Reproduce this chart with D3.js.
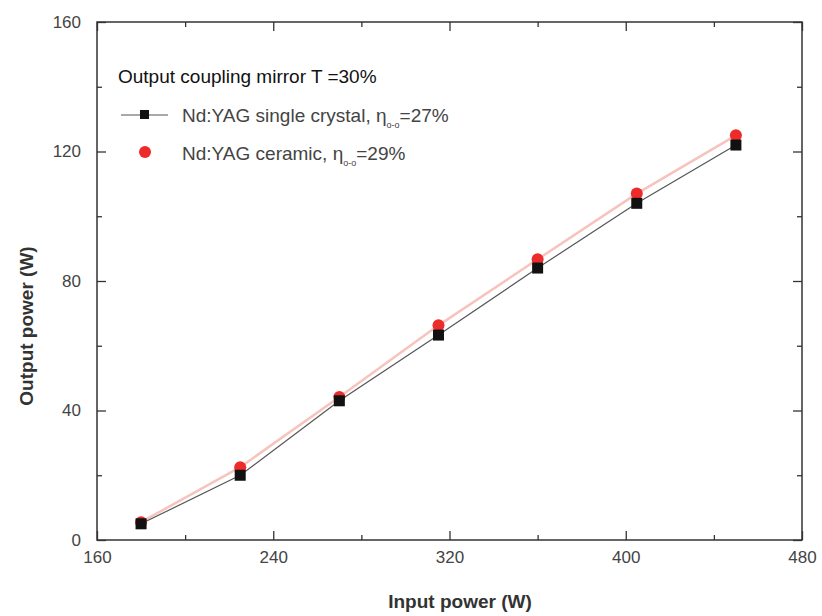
<!DOCTYPE html>
<html>
<head>
<meta charset="utf-8">
<script src="https://cdn.jsdelivr.net/npm/d3@7"></script>
<style>
  body { margin: 0; background: #fff; }
  text { font-family: "Liberation Sans", Arial, sans-serif; }
</style>
</head>
<body>
<svg id="chart" width="822" height="616"></svg>
<script>
// measured data
var input_power = [180, 225, 270, 315, 360, 405, 450]
var single_crystal = [5, 20, 43, 63.3, 84, 104, 122]
var ceramic = [5.5, 22.5, 44.2, 66.3, 86.7, 107, 125]

var x_ticks = [160, 240, 320, 400, 480]
var y_ticks = [0, 40, 80, 120, 160]

// plot box (window.top is reserved, so plain names are avoided)
var plot_left = 97, plot_right = 802, plot_top = 22, plot_bottom = 540

var svg = d3.select('#chart')

var x = d3.scaleLinear().domain([160, 480]).range([plot_left, plot_right])
var y = d3.scaleLinear().domain([0, 160]).range([plot_bottom, plot_top])

// frame
svg.append('rect')
    .attr('x', plot_left)
    .attr('y', plot_top)
    .attr('width', plot_right - plot_left)
    .attr('height', plot_bottom - plot_top)
    .attr('fill', 'none')
    .attr('stroke', '#333')
    .attr('stroke-width', 1.5)

// inward ticks on all four sides
function addAxis(axis, tx, ty) {
    var g = svg.append('g')
        .attr('transform', 'translate(' + tx + ',' + ty + ')')
        .call(axis)
    g.select('.domain').remove()
    g.selectAll('line').attr('stroke', '#333').attr('stroke-width', 1.3)
    return g
}

var xMinor = d3.range(200, 480, 80)
var yMinor = d3.range(20, 160, 40)

var gx = addAxis(d3.axisBottom(x).tickValues(x_ticks).tickSize(-9).tickPadding(11), 0, plot_bottom)
gx.selectAll('text').attr('font-size', 17).attr('fill', '#444')
addAxis(d3.axisBottom(x).tickValues(xMinor).tickSize(-5).tickFormat(''), 0, plot_bottom)
addAxis(d3.axisTop(x).tickValues(x_ticks).tickSize(-9).tickFormat(''), 0, plot_top)
addAxis(d3.axisTop(x).tickValues(xMinor).tickSize(-5).tickFormat(''), 0, plot_top)

var gy = addAxis(d3.axisLeft(y).tickValues(y_ticks).tickSize(-9).tickPadding(16), plot_left, 0)
gy.selectAll('text').attr('font-size', 17).attr('fill', '#444')
addAxis(d3.axisLeft(y).tickValues(yMinor).tickSize(-5).tickFormat(''), plot_left, 0)
addAxis(d3.axisRight(y).tickValues(y_ticks).tickSize(-9).tickFormat(''), plot_right, 0)
addAxis(d3.axisRight(y).tickValues(yMinor).tickSize(-5).tickFormat(''), plot_right, 0)

// axis titles
svg.append('text')
    .attr('x', 460)
    .attr('y', 608)
    .attr('text-anchor', 'middle')
    .attr('font-size', 19)
    .attr('font-weight', 'bold')
    .attr('fill', '#333')
    .text('Input power (W)')

svg.append('text')
    .attr('transform', 'translate(33,326) rotate(-90)')
    .attr('text-anchor', 'middle')
    .attr('font-size', 19)
    .attr('font-weight', 'bold')
    .attr('fill', '#333')
    .text('Output power (W)')

var line = d3.line()
    .x(function(d) { return x(d[0]) })
    .y(function(d) { return y(d[1]) })

var crystalPts = d3.zip(input_power, single_crystal)
var ceramicPts = d3.zip(input_power, ceramic)

svg.append('path')
    .datum(ceramicPts)
    .attr('d', line)
    .attr('fill', 'none')
    .attr('stroke', '#f7c4bd')
    .attr('stroke-width', 2.5)

svg.append('path')
    .datum(crystalPts)
    .attr('d', line)
    .attr('fill', 'none')
    .attr('stroke', '#555')
    .attr('stroke-width', 1.2)

svg.selectAll('circle.ceramic')
    .data(ceramicPts)
    .join('circle')
    .attr('class', 'ceramic')
    .attr('cx', function(d) { return x(d[0]) })
    .attr('cy', function(d) { return y(d[1]) })
    .attr('r', 6)
    .attr('fill', '#ee2b2b')

svg.selectAll('rect.crystal')
    .data(crystalPts)
    .join('rect')
    .attr('class', 'crystal')
    .attr('x', function(d) { return x(d[0]) - 5.5 })
    .attr('y', function(d) { return y(d[1]) - 5.5 })
    .attr('width', 11)
    .attr('height', 11)
    .attr('fill', '#111')

// legend
svg.append('text')
    .attr('x', 118)
    .attr('y', 83)
    .attr('font-size', 19)
    .attr('fill', '#111')
    .text('Output coupling mirror T =30%')

svg.append('line')
    .attr('x1', 121).attr('x2', 168)
    .attr('y1', 115).attr('y2', 115)
    .attr('stroke', '#555').attr('stroke-width', 1.2)
svg.append('rect')
    .attr('x', 140).attr('y', 110).attr('width', 9).attr('height', 9)
    .attr('fill', '#111')
svg.append('circle')
    .attr('cx', 145).attr('cy', 152).attr('r', 6)
    .attr('fill', '#ee2b2b')

function legendText(yPos, label, value) {
    var t = svg.append('text')
        .attr('x', 182)
        .attr('y', yPos)
        .attr('font-size', 19)
        .attr('fill', '#444')
    t.append('tspan').text(label + ', \u03b7')
    t.append('tspan').attr('font-size', 9).attr('dy', 6).text('o-o')
    t.append('tspan').attr('dy', -6).text('=' + value)
}
legendText(122, 'Nd:YAG single crystal', '27%')
legendText(160, 'Nd:YAG ceramic', '29%')
</script>
</body>
</html>
